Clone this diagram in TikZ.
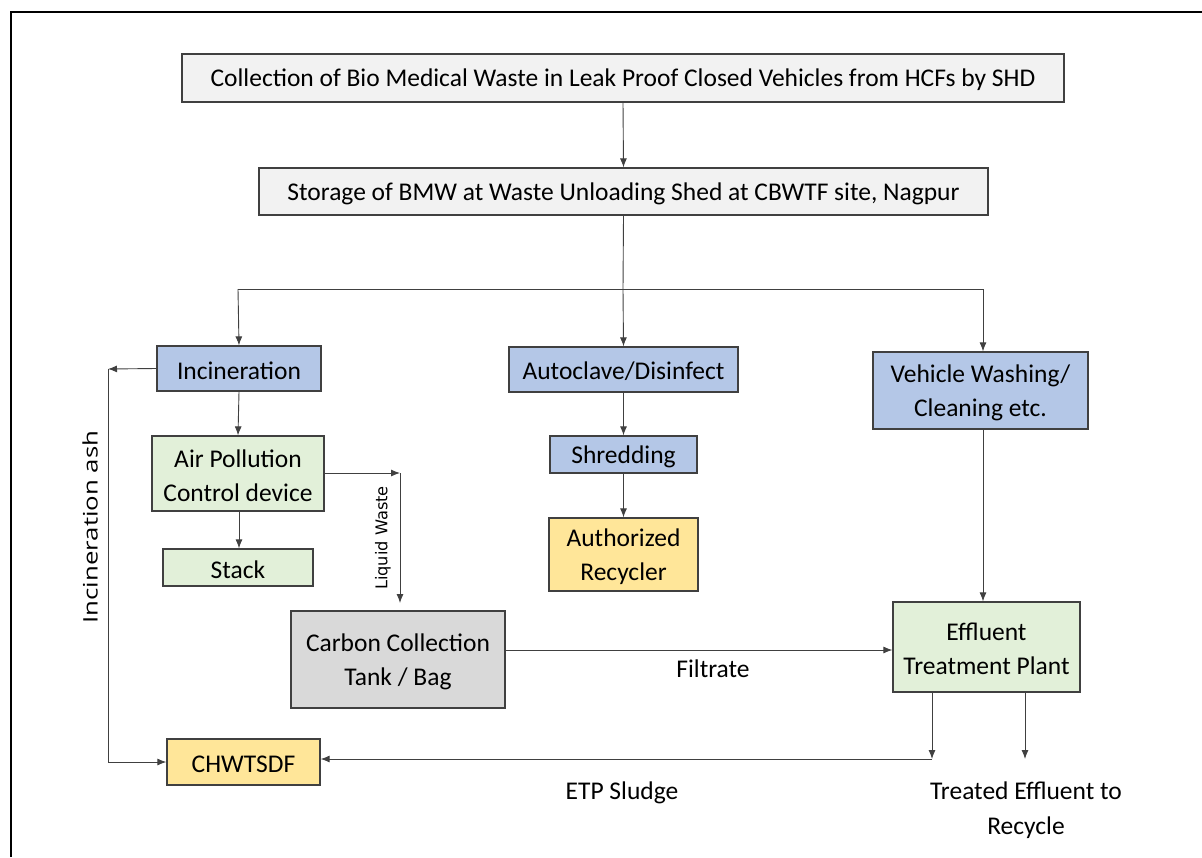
\documentclass[tikz,border=0pt]{standalone}
\usepackage{fontspec}
\setmainfont{Carlito}
\newfontfamily\dvs{DejaVu Sans}
\newfontfamily\osans{Open Sans}
\usetikzlibrary{arrows.meta}
\definecolor{gfill}{HTML}{F2F2F2}
\definecolor{bfill}{HTML}{B4C7E7}
\definecolor{grfill}{HTML}{E2F0D9}
\definecolor{yfill}{HTML}{FFE699}
\definecolor{cfill}{HTML}{D9D9D9}
\definecolor{edge}{HTML}{404040}
\definecolor{conn}{HTML}{404040}
\tikzset{
  bx/.style={draw=edge, line width=1.3pt, inner sep=0pt},
  bxt/.style={inner sep=0pt, align=center, font=\fontsize{25.5}{34}\selectfont},
  arr/.style={draw=conn, line width=0.9pt, -{Latex[length=9pt,width=7pt]}},
  ln/.style={draw=conn, line width=0.9pt},
  lbl/.style={font=\fontsize{25.5}{35}\selectfont, align=center}
}
\newcommand{\boxat}[7]{% name, x1,y1,x2,y2, fill, text
  \node[bx, fill=#6, minimum width={(#4)-(#2)}, minimum height={(#5)-(#3)}] (#1) at ({((#2)+(#4))/2},{((#3)+(#5))/2}) {};
  \node[bxt] (#1t) at ([yshift=-2pt]#1.center) {#7};}
\begin{document}
\begin{tikzpicture}[x=1pt,y=-1pt]
\useasboundingbox (0,0) rectangle (1202,857);
\draw[line width=2.6pt] (11,857) -- (11,12) -- (1202,12);
\boxat{top}{182}{54}{1064}{102}{gfill}{Collection of Bio Medical Waste in Leak Proof Closed Vehicles from HCFs by SHD}
\boxat{sto}{259}{168}{988}{215}{gfill}{Storage of BMW at Waste Unloading Shed at CBWTF site, Nagpur}
\boxat{inc}{157}{346}{321}{391}{bfill}{Incineration}
\boxat{aut}{509}{347}{738}{392}{bfill}{Autoclave/Disinfect}
\boxat{veh}{873}{352}{1088}{429}{bfill}{Vehicle Washing/\\Cleaning etc.}
\boxat{apc}{152}{436}{324}{511}{grfill}{Air Pollution\\Control device}
\boxat{stk}{163}{549}{313}{586}{grfill}{Stack}
\boxat{shr}{550}{436}{697}{473}{bfill}{Shredding}
\boxat{rec}{549}{518}{698}{591}{yfill}{Authorized\\Recycler}
\boxat{car}{291}{611}{505}{708}{cfill}{Carbon Collection\\Tank / Bag}
\boxat{etp}{893}{602}{1080}{692}{grfill}{Effluent\\Treatment Plant}
\boxat{chw}{167}{739}{320}{785}{yfill}{CHWTSDF}
% coordinates
\coordinate (br) at (623,289);
\coordinate (bl) at (238,289);
\coordinate (bR) at (983,289);
\coordinate (lw1) at (400,473);
\coordinate (ash) at (108,369);
\coordinate (s1) at (932,759);
\coordinate (s2) at (1025,759);
% connectors
\draw[arr] (top.south) -- (sto.north);
\draw[ln] (sto.south) -- (br);
\draw[ln] (bl) -- (bR);
\draw[arr] (bl) -- (inc.north);
\draw[arr] (br) -- (aut.north);
\draw[arr] (bR) -- (veh.north -| bR);
\draw[arr] (inc.south) -- (apc.north);
\draw[arr] (apc.south -| inc.south) -- (stk.north -| inc.south);
\draw[arr] (aut.south) -- (shr.north);
\draw[arr] (shr.south) -- (rec.north);
\draw[arr] (veh.south -| bR) -- (etp.north -| bR);
\draw[arr] (apc.east |- lw1) -- (lw1);
\draw[arr] (lw1) -- (400,603);
\node[rotate=90, xscale=1.0, font=\dvs\fontsize{16.2}{18}\selectfont] (lwl) at (383,538) {Liquid Waste};
\draw[arr] (inc.west) -- (ash);
\draw[arr] (ash) |- (chw.west);
\node[rotate=90, xscale=1.29, font=\osans\fontsize{20}{24}\selectfont] (ial) at (90,527) {Incineration ash};
\draw[arr] (car.east |- 0,650) -- (etp.west |- 0,650);
\node[lbl] (fil) at (713,669) {Filtrate};
\draw[arr] (etp.south -| s1) -- (s1);
\draw[arr] (s1) -- (chw.east |- s1);
\draw[arr] (etp.south -| s2) -- (s2);
\node[lbl] (sl) at (622,793) {ETP Sludge};
\node[lbl] (tr) at (1026,810) {Treated Effluent to\\Recycle};
\end{tikzpicture}
\end{document}
